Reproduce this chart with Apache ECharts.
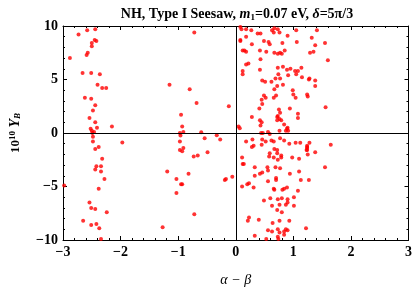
<!DOCTYPE html>
<html>
<head>
<meta charset="utf-8">
<script src="https://cdn.jsdelivr.net/npm/echarts@6/dist/echarts.min.js"></script>
<style>html,body{margin:0;padding:0;background:#fff;}#c{width:415px;height:292px;}</style>
</head>
<body>
<div id="c"></div>
<script>
// Axis ranges / ticks
const xTicks = [-3, -2, -1, 0, 1, 2, 3];
const yTicks = [-10, -5, 0, 5, 10];

// Points [alpha - beta, 10^10 Y_B]
const leftBand = [
  [-2.73,9.2],[-2.58,9.6],[-2.44,9.7],[-2.42,8.6],[-2.45,8.7],[-2.50,8.4],[-2.50,8.1],[-2.57,7.5],
  [-2.59,7.3],[-2.88,7.0],[-2.66,5.6],[-2.51,5.6],[-2.36,5.5],[-2.40,4.5],[-2.32,4.2],[-2.25,4.2],
  [-2.62,3.3],[-2.51,3.2],[-2.44,2.6],[-2.48,2.1],[-2.54,1.4],[-2.44,1.0],[-2.15,0.6],[-2.41,0.5],
  [-2.52,0.4],[-2.50,0.2],[-2.46,0.1],[-2.49,0.0],[-2.48,-0.36],[-1.97,-0.88],[-2.48,-0.79],[-2.38,-1.3],
  [-2.44,-1.5],[-2.32,-2.4],[-2.42,-3.1],[-2.34,-3.1],[-2.44,-3.4],[-2.34,-3.6],[-2.28,-4.3],[-2.38,-5.2],
  [-2.98,-4.9],[-2.54,-6.5],[-2.51,-7.0],[-2.44,-7.1],[-2.24,-7.4],[-2.65,-8.2],[-2.51,-8.6],[-2.42,-8.5],
  [-2.37,-8.9],[-2.34,-9.9]
];
const middleBand = [
  [-0.72,9.4],[-1.15,4.5],[-0.80,4.1],[-0.68,2.8],[-0.12,2.5],[-0.95,1.7],[-0.93,0.6],[-0.91,0.1],
  [-0.97,0.0],[-0.96,-0.24],[-0.60,0.06],[-0.33,-0.2],[-0.54,-0.5],[-0.27,-0.6],[-0.97,-0.8],[-0.91,-1.4],
  [-0.97,-1.6],[-0.93,-1.7],[-0.49,-1.8],[-0.66,-2.1],[-0.73,-2.2],[-1.19,-3.6],[-0.82,-3.8],[-1.03,-4.3],
  [-0.06,-4.1],[-0.17,-4.3],[-0.19,-4.4],[-0.95,-4.8],[-0.93,-4.8],[-1.03,-5.6],[-0.72,-7.6],[-1.27,-8.8]
];
const mainBand = [
  [0.08,9.9],[0.08,8.7],[0.12,7.7],[0.12,5.5],[0.05,0.6],[0.07,0.45],[0.11,-2.3],[0.12,-2.9],[0.11,-5.0],
  [0.10,9.7],[0.18,9.7],[0.27,9.6],[0.38,9.3],[0.43,9.3],[0.63,9.6],[0.67,9.8],[0.73,9.7],[0.76,9.4],
  [0.66,9.4],[0.90,9.1],[1.05,9.6],[0.08,8.6],[0.18,9.0],[0.28,8.3],[0.49,8.6],[0.57,8.5],[0.59,8.3],
  [0.81,8.4],[1.06,8.5],[0.15,7.7],[0.18,7.6],[0.42,7.7],[0.53,7.6],[0.67,7.5],[0.73,7.4],[0.77,7.5],
  [0.80,7.4],[0.85,7.7],[1.29,7.5],[0.22,6.5],[0.18,6.4],[0.43,6.9],[0.42,5.9],[0.73,6.1],[0.82,6.2],
  [0.89,5.9],[0.95,6.0],[1.03,5.8],[1.08,5.8],[1.14,6.1],[0.12,5.8],[0.74,5.5],[0.91,5.4],[1.05,5.5],
  [1.27,5.0],[0.46,4.9],[0.51,4.8],[0.62,4.8],[0.69,5.1],[0.77,5.1],[0.72,4.4],[0.82,4.5],[0.67,4.1],
  [0.99,4.0],[0.49,3.5],[0.66,3.3],[0.52,3.3],[0.70,3.5],[1.00,3.6],[1.04,3.3],[1.24,3.6],[1.25,3.4],
  [0.45,3.1],[0.46,2.7],[0.41,2.3],[0.75,2.2],[0.94,2.3],[0.72,1.5],[0.73,1.6],[0.77,1.9],[0.76,1.3],
  [0.28,1.5],[0.42,1.2],[0.45,1.0],[0.43,0.7],[0.72,1.2],[0.79,1.2],[0.84,0.8],[0.90,0.5],[1.08,1.8],
  [1.08,1.4],[0.44,0.0],[0.47,0.0],[0.56,0.1],[0.59,-0.1],[0.76,0.2],[0.87,0.2],[0.89,0.4],[0.91,0.2],
  [1.41,9.6],[1.32,8.9],[1.55,8.4],[1.38,8.2],[1.35,7.6],[1.60,6.8],[1.15,5.2],[1.28,5.1],[1.38,4.9],
  [1.38,4.4],[1.56,2.4],
  [0.18,-0.8],[0.29,-0.6],[0.46,-0.6],[0.52,-0.8],[0.62,-0.7],[0.66,-0.8],[0.77,-0.5],[0.84,-0.7],
  [0.93,-1.0],[1.04,-0.9],[1.12,-0.9],[1.28,-0.9],[0.31,-1.2],[0.28,-1.3],[0.45,-1.1],[0.67,-1.5],
  [0.72,-1.6],[1.24,-1.3],[1.23,-1.6],[1.38,-1.8],[0.59,-1.9],[0.72,-1.9],[0.79,-2.1],[0.66,-2.3],
  [0.73,-2.5],[0.79,-2.3],[0.58,-2.2],[0.98,-2.3],[1.10,-2.4],[0.14,-2.9],[0.33,-3.2],[0.55,-3.2],
  [0.69,-3.2],[0.77,-3.3],[0.46,-3.7],[0.42,-3.8],[0.33,-4.0],[0.56,-3.5],[0.94,-3.8],[1.10,-3.6],
  [0.70,-4.2],[0.70,-4.4],[0.56,-4.5],[1.13,-4.4],[1.27,-4.4],[0.20,-4.8],[0.23,-4.7],[0.31,-5.1],
  [0.66,-5.2],[0.67,-5.3],[0.81,-5.3],[0.84,-5.2],[0.89,-5.1],[1.08,-5.4],[0.49,-6.3],[0.60,-6.1],
  [0.73,-6.2],[0.80,-6.1],[0.90,-6.2],[1.01,-6.0],[0.90,-6.5],[0.63,-6.8],[0.76,-6.7],[0.87,-6.7],
  [1.01,-6.8],[0.72,-7.2],[0.80,-7.4],[0.23,-7.9],[0.21,-8.2],[0.40,-8.1],[0.64,-8.4],[0.76,-8.2],
  [0.93,-8.2],[1.22,-8.9],[0.56,-9.1],[0.63,-9.2],[0.73,-9.0],[0.76,-9.3],[0.84,-9.2],[0.87,-9.0],
  [0.90,-9.1],[0.33,-9.6],[0.73,-9.7],[0.84,-9.5],[0.74,-9.9],[0.53,-9.9],
  [1.24,-1.2],[1.24,-1.4],[1.24,-1.6],[1.25,-2.0],[1.65,-1.1],[1.55,-3.2]
];

const serif = '"Liberation Serif","DejaVu Serif",serif';
const fmt = v => (v < 0 ? '\u2212' + Math.abs(v) : String(v));

function xAx(pos, showLabel) {
  return {
    type: 'value', position: pos, min: xTicks[0], max: xTicks[xTicks.length-1], interval: 1,
    axisLine: { show: true, onZero: false, lineStyle: { color: '#000', width: 1 } },
    axisTick: { show: true, inside: true, length: 4, lineStyle: { color: '#000' } },
    minorTick: { show: true, splitNumber: 5, length: 2, lineStyle: { color: '#000' } },
    splitLine: { show: false },
    axisLabel: { show: showLabel, formatter: fmt, color: '#000', fontFamily: serif, fontSize: 14, fontWeight: 'bold', margin: 5 },
    name: showLabel ? 'α − β' : '', nameLocation: 'middle', nameGap: 33,
    nameTextStyle: { fontFamily: serif, fontSize: 14, fontStyle: 'italic', color: '#000' }
  };
}
function yAx(pos, showLabel) {
  return {
    type: 'value', position: pos, min: yTicks[0], max: yTicks[yTicks.length-1], interval: 5,
    axisLine: { show: true, onZero: false, lineStyle: { color: '#000', width: 1 } },
    axisTick: { show: true, inside: true, length: 4, lineStyle: { color: '#000' } },
    minorTick: { show: true, splitNumber: 5, length: 2, lineStyle: { color: '#000' } },
    splitLine: { show: false },
    axisLabel: { show: showLabel, formatter: fmt, color: '#000', fontFamily: serif, fontSize: 14, fontWeight: 'bold', margin: 5 },
    name: showLabel ? '{n|10}{s|10} {y|Y}{sb|B}' : '', nameLocation: 'middle', nameGap: 40, nameRotate: 90,
    nameTextStyle: {
      color: '#000',
      rich: {
        n: { fontFamily: serif, fontSize: 13, fontWeight: 'bold', color: '#000' },
        s: { fontFamily: serif, fontSize: 9, fontWeight: 'bold', color: '#000', verticalAlign: 'top', padding: [0,0,6,0] },
        y: { fontFamily: serif, fontSize: 14, fontWeight: 'bold', fontStyle: 'italic', color: '#000' },
        sb: { fontFamily: serif, fontSize: 9, fontWeight: 'bold', fontStyle: 'italic', color: '#000', padding: [5,0,0,0] }
      }
    }
  };
}

const pts = { type: 'scatter', symbolSize: 4, itemStyle: { color: '#ff0000' }, silent: true };

const chart = echarts.init(document.getElementById('c'), null, { renderer: 'canvas' });
chart.setOption({
  animation: false,
  backgroundColor: '#fff',
  title: {
    text: '{b|NH, Type I Seesaw, }{i|m}{sub|1}{b|=0.07 eV, }{i|δ}{b|=5π/3}',
    left: 232, top: 2, textAlign: 'center',
    textStyle: {
      rich: {
        b: { fontFamily: serif, fontSize: 14, fontWeight: 'bold', color: '#000' },
        i: { fontFamily: serif, fontSize: 14, fontWeight: 'bold', fontStyle: 'italic', color: '#000' },
        sub: { fontFamily: serif, fontSize: 9, fontWeight: 'bold', color: '#000', padding: [6,0,0,0] }
      }
    }
  },
  grid: { left: 55, right: 6, top: 26, bottom: 46, containLabel: false },
  xAxis: [xAx('bottom', true), xAx('top', false)],
  yAxis: [yAx('left', true), yAx('right', false)],
  series: [
    Object.assign({ name: 'left', data: leftBand,
      markLine: { silent: true, symbol: 'none', label: { show: false },
        lineStyle: { color: '#000', width: 1, type: 'solid' },
        data: [{ xAxis: 0 }, { yAxis: 0 }] } }, pts),
    Object.assign({ name: 'middle', data: middleBand }, pts),
    Object.assign({ name: 'main', data: mainBand }, pts)
  ]
});
</script>
</body>
</html>
